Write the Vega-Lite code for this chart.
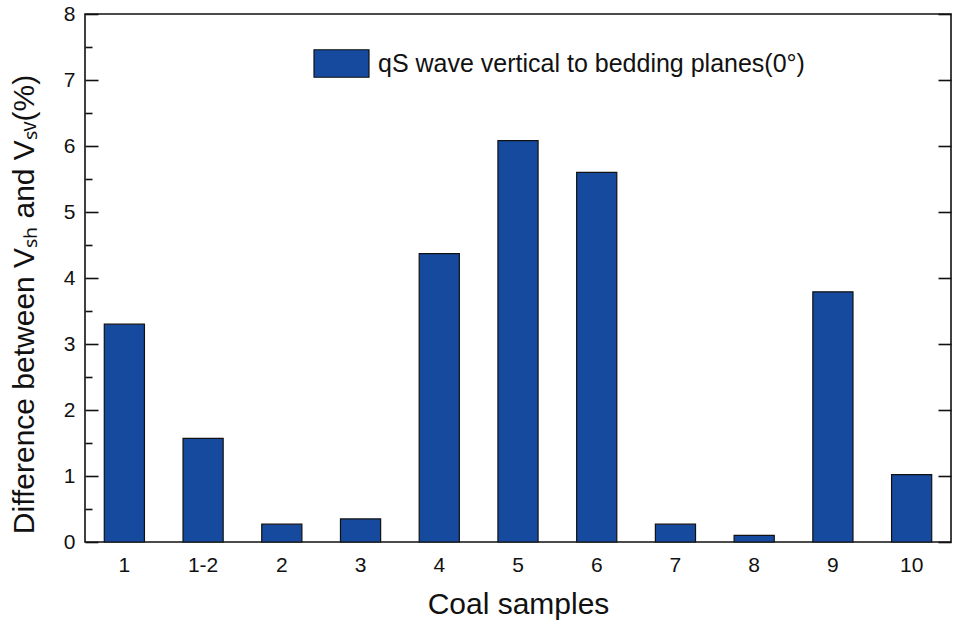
{
  "$schema": "https://vega.github.io/schema/vega-lite/v6.json",
  "width": 866,
  "height": 528,
  "autosize": {"type": "none"},
  "padding": {"left": 85, "top": 14, "right": 2, "bottom": 88},
  "background": "white",
  "config": {
    "view": {"stroke": "#111", "strokeWidth": 1.6},
    "font": "Liberation Sans",
    "axis": {"labelFont": "Liberation Sans", "titleFont": "Liberation Sans", "labelColor": "#111", "titleColor": "#111", "titleFontWeight": "normal", "grid": false, "domain": false}
  },
  "data": {
    "values": [
      {"sample": "1", "diff": 3.30, "series": "qS wave vertical to bedding planes(0°)"},
      {"sample": "1-2", "diff": 1.57, "series": "qS wave vertical to bedding planes(0°)"},
      {"sample": "2", "diff": 0.27, "series": "qS wave vertical to bedding planes(0°)"},
      {"sample": "3", "diff": 0.35, "series": "qS wave vertical to bedding planes(0°)"},
      {"sample": "4", "diff": 4.37, "series": "qS wave vertical to bedding planes(0°)"},
      {"sample": "5", "diff": 6.08, "series": "qS wave vertical to bedding planes(0°)"},
      {"sample": "6", "diff": 5.60, "series": "qS wave vertical to bedding planes(0°)"},
      {"sample": "7", "diff": 0.27, "series": "qS wave vertical to bedding planes(0°)"},
      {"sample": "8", "diff": 0.10, "series": "qS wave vertical to bedding planes(0°)"},
      {"sample": "9", "diff": 3.79, "series": "qS wave vertical to bedding planes(0°)"},
      {"sample": "10", "diff": 1.02, "series": "qS wave vertical to bedding planes(0°)"}
    ]
  },
  "layer": [
    {
      "mark": {"type": "bar", "stroke": "#111", "strokeWidth": 1.2},
      "encoding": {
        "x": {
          "field": "sample", "type": "nominal", "sort": null,
          "scale": {"paddingInner": 0.49, "paddingOuter": 0.245},
          "axis": {"title": "Coal samples", "labelAngle": 0, "labelFontSize": 21, "titleFontSize": 30, "ticks": false, "labelPadding": 12, "titlePadding": 14}
        },
        "y": {
          "field": "diff", "type": "quantitative",
          "scale": {"domain": [0, 8], "nice": false},
          "axis": {
            "orient": "left",
            "title": "Difference between Vₛₕ and Vₛᵥ(%)",
            "values": [0, 0.5, 1, 1.5, 2, 2.5, 3, 3.5, 4, 4.5, 5, 5.5, 6, 6.5, 7, 7.5, 8],
            "labelExpr": "datum.value % 1 === 0 ? format(datum.value, 'd') : ''",
            "tickSize": {"condition": {"test": "datum.value % 1 === 0", "value": -13}, "value": -7},
            "tickColor": "#111",
            "tickWidth": 1.6,
            "labelFontSize": 21,
            "labelPadding": 23,
            "titleFontSize": 30,
            "titlePadding": 24,
            "titleY": 290
          }
        },
        "fill": {
          "field": "series", "type": "nominal",
          "scale": {"range": ["#164A9E"]},
          "legend": {
            "title": null,
            "orient": "none",
            "legendX": 228,
            "legendY": 21,
            "padding": 0,
            "symbolType": "M-1,-0.5H1V0.5H-1Z",
            "symbolSize": 3025,
            "symbolStrokeColor": "#111",
            "symbolStrokeWidth": 1.2,
            "symbolFillColor": "#164A9E",
            "labelFontSize": 25,
            "labelFont": "Liberation Sans",
            "labelColor": "#111",
            "labelLimit": 0,
            "labelOffset": 8
          }
        }
      }
    },
    {
      "mark": {"type": "bar", "opacity": 0},
      "encoding": {
        "x": {"field": "sample", "type": "nominal", "sort": null},
        "y": {
          "field": "diff", "type": "quantitative",
          "axis": {"orient": "right", "title": null, "labels": false, "values": [0, 1, 2, 3, 4, 5, 6, 7, 8], "tickSize": -13, "tickColor": "#111", "tickWidth": 1.6}
        }
      }
    }
  ],
  "resolve": {"axis": {"y": "independent"}}
}
